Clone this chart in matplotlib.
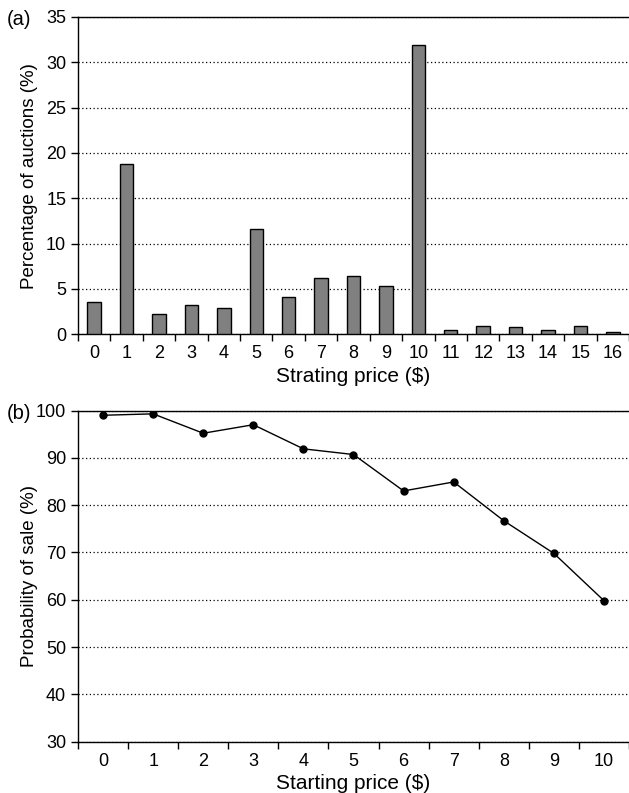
import matplotlib
matplotlib.use('Agg')
import matplotlib.pyplot as plt

plt.rcParams['font.family'] = ['Liberation Sans', 'DejaVu Sans']

# (a) share of auctions per starting price
prices_a = list(range(17))
share_pct = [3.55, 18.8, 2.2, 3.25, 2.9, 11.6, 4.1, 6.2, 6.4, 5.3, 31.9,
             0.48, 0.95, 0.85, 0.48, 0.95, 0.25]

# (b) probability of sale per starting price
prices_b = list(range(11))
sale_prob = [99.0, 99.3, 95.2, 97.0, 91.9, 90.7, 83.0, 84.9, 76.7, 69.8, 59.8]

fig = plt.figure(figsize=(6.29, 7.93), dpi=100)
ax1 = fig.add_axes([0.124, 0.5784, 0.876, 0.4002])
ax2 = fig.add_axes([0.124, 0.0648, 0.876, 0.4175])

tick_fs = 13
xlab_fs = 15
ylab_fs = 13.5


def style(ax, n, xlim_hi):
    ax.spines['right'].set_visible(False)
    for s in ['left', 'bottom', 'top']:
        ax.spines[s].set_linewidth(1.0)
    ax.set_xlim(-0.5, xlim_hi)
    ax.set_xticks(range(n))
    ax.set_xticklabels([str(i) for i in range(n)], fontsize=tick_fs)
    ax.set_xticks([i + 0.5 for i in range(-1, n)], minor=True)
    ax.tick_params(axis='x', which='major', length=0, pad=8)
    ax.tick_params(axis='x', which='minor', length=5, direction='out', width=1)
    ax.tick_params(axis='y', length=5, direction='out', labelsize=tick_fs, width=1)
    ax.grid(axis='y', linestyle=(0, (1, 2)), color='black', linewidth=0.9)
    ax.set_axisbelow(True)
    ax.yaxis.set_label_coords(-0.073, 0.5)


ax1.bar(prices_a, share_pct, width=0.415, color='#808080', edgecolor='black', linewidth=1.0, zorder=3)
style(ax1, 17, 16.32)
ax1.set_ylim(0, 35)
ax1.set_yticks(range(0, 36, 5))
ax1.set_xlabel('Strating price ($)', fontsize=xlab_fs, labelpad=3)
ax1.set_ylabel('Percentage of auctions (%)', fontsize=ylab_fs)

ax2.plot(prices_b, sale_prob, color='black', linewidth=1.0, marker='o', markersize=5, zorder=3)
style(ax2, 11, 10.39)
ax2.set_ylim(30, 100)
ax2.set_yticks(range(30, 101, 10))
ax2.set_xlabel('Starting price ($)', fontsize=xlab_fs, labelpad=3)
ax2.set_ylabel('Probability of sale (%)', fontsize=ylab_fs)

fig.text(0.011, 0.975, '(a)', fontsize=14.5, ha='left', va='center')
fig.text(0.011, 0.478, '(b)', fontsize=14.5, ha='left', va='center')

fig.savefig('out.png', dpi=100)
